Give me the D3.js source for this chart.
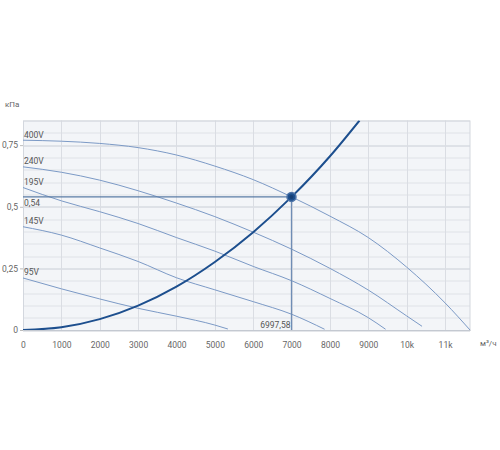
<!DOCTYPE html>
<html>
<head>
<meta charset="utf-8">
<script src="https://cdn.jsdelivr.net/npm/d3@7"></script>
<style>
  body { margin: 0; background: #fff; }
  text { font-family: Roboto, "Noto Sans", sans-serif; }
</style>
</head>
<body>
<svg id="svg"></svg>
<script>
  // fan curves, m3/h vs kPa
  const flow400 = [0, 1000, 2000, 3000, 4000, 5000, 6000, 7000, 8000, 9000, 10000, 11000, 11650];
  const press400 = [0.77, 0.766, 0.757, 0.74, 0.71, 0.665, 0.61, 0.54, 0.462, 0.375, 0.255, 0.11, 0];

  const flow240 = [0, 1000, 2000, 3000, 4000, 5000, 6000, 7000, 8000, 9000, 10000, 10400];
  const press240 = [0.662, 0.64, 0.608, 0.565, 0.515, 0.46, 0.397, 0.328, 0.25, 0.162, 0.057, 0.015];

  const flow195 = [0, 1000, 2000, 3000, 4000, 5000, 6000, 7000, 8000, 9000, 9450];
  const press195 = [0.578, 0.524, 0.48, 0.432, 0.375, 0.32, 0.258, 0.2, 0.128, 0.05, 0.003];

  const flow145 = [0, 1000, 2000, 3000, 4000, 5000, 6000, 7000, 7860];
  const press145 = [0.419, 0.385, 0.333, 0.278, 0.212, 0.163, 0.115, 0.064, 0.003];

  const flow95 = [0, 1000, 2000, 3000, 4000, 5000, 5340];
  const press95 = [0.211, 0.167, 0.126, 0.088, 0.056, 0.02, 0.004];

  const curveNames = ["400V", "240V", "195V", "145V", "95V"];

  // network (system) curve
  const flowNet = [0, 1000, 2000, 3000, 4000, 5000, 6000, 7000, 8000, 8770];
  const pressNet = [0, 0.011, 0.044, 0.099, 0.176, 0.276, 0.397, 0.54, 0.705, 0.85];

  const workFlow = 6997.58;
  const workPress = 0.54;

  const xTicks = [0, 1000, 2000, 3000, 4000, 5000, 6000, 7000, 8000, 9000, 10000, 11000];
  const xTickLabels = ["0", "1000", "2000", "3000", "4000", "5000", "6000", "7000", "8000", "9000", "10k", "11k"];
  const yTicks = [0, 0.25, 0.5, 0.75];
  const yTickLabels = ["0", "0,25", "0,5", "0,75"];

  const marginLeft = 23;
  const marginRight = 30;
  const marginTop = 120.5;
  const marginBottom = 120;
  const width = 500 - marginLeft - marginRight;
  const height = 450 - marginTop - marginBottom;

  const svg = d3.select("#svg")
      .attr("width", 500)
      .attr("height", 450);

  const xScale = d3.scaleLinear()
      .range([0, width])
      .domain([0, 11650]);

  const yScale = d3.scaleLinear()
      .range([height, 0])
      .domain([0, 0.85]);

  const chart = svg.append("g")
      .attr("transform", `translate(${marginLeft}, ${marginTop})`);

  chart.append("rect")
      .attr("width", width)
      .attr("height", height)
      .attr("fill", "#f3f5f8");

  // horizontal grid every 0.05, darker every 0.25
  const yGrid = d3.range(0, 18).map(i => +(i * 0.05).toFixed(2));
  chart.selectAll(".hgrid")
      .data(yGrid)
      .enter().append("line")
      .attr("x1", 0)
      .attr("x2", width)
      .attr("y1", d => Math.round(yScale(d)) + 0.5)
      .attr("y2", d => Math.round(yScale(d)) + 0.5)
      .attr("stroke", d => (Math.round(d * 100) % 25 === 0) ? "#c9ced6" : "#dfe2e7")
      .attr("stroke-width", 1);

  chart.selectAll(".vgrid")
      .data(xTicks.slice(1))
      .enter().append("line")
      .attr("x1", d => Math.round(xScale(d)) + 0.5)
      .attr("x2", d => Math.round(xScale(d)) + 0.5)
      .attr("y1", 0)
      .attr("y2", height)
      .attr("stroke", "#dadde3")
      .attr("stroke-width", 1);

  chart.append("rect")
      .attr("x", 0.5)
      .attr("y", 0.5)
      .attr("width", width - 0.5)
      .attr("height", height)
      .attr("fill", "none")
      .attr("stroke", "#d3d7de");

  // axes
  const xAxis = chart.append("g")
      .attr("transform", `translate(0, ${height})`)
      .call(d3.axisBottom(xScale)
        .tickValues(xTicks)
        .tickSize(0)
        .tickPadding(12)
        .tickFormat((d, i) => xTickLabels[i]));
  xAxis.select(".domain").attr("stroke", "#c4c9d1");
  xAxis.selectAll("text").attr("fill", "#666").attr("font-size", "8.5px");

  const yAxis = chart.append("g")
      .call(d3.axisLeft(yScale)
        .tickValues(yTicks)
        .tickSize(3)
        .tickPadding(2)
        .tickFormat((d, i) => yTickLabels[i]));
  yAxis.select(".domain").remove();
  yAxis.selectAll("line").attr("stroke", "#bbb");
  yAxis.selectAll("text").attr("fill", "#666").attr("font-size", "8.5px");

  svg.append("text")
      .attr("x", 5)
      .attr("y", 107)
      .attr("fill", "#666")
      .attr("font-size", "8px")
      .text("кПа");

  svg.append("text")
      .attr("x", 480)
      .attr("y", 346)
      .attr("fill", "#666")
      .attr("font-size", "8px")
      .text("м³/ч");

  // clip for curves
  svg.append("clipPath")
      .attr("id", "plotclip")
      .append("rect")
      .attr("width", width)
      .attr("height", height);

  const line = d3.line()
      .x(function(d) { return xScale(d[0]) })
      .y(function(d) { return yScale(d[1]) })
      .curve(d3.curveMonotoneX);

  const fanFlows = [flow400, flow240, flow195, flow145, flow95];
  const fanPress = [press400, press240, press195, press145, press95];

  fanFlows.forEach(function(flows, k) {
    const pts = flows.map((f, i) => [f, fanPress[k][i]]);
    chart.append("path")
        .datum(pts)
        .attr("fill", "none")
        .attr("stroke", "#7c9ac6")
        .attr("stroke-width", 1)
        .attr("d", line);

    chart.append("text")
        .attr("x", 1)
        .attr("y", yScale(pts[0][1]) - 2.5)
        .attr("fill", "#555")
        .attr("font-size", "8.5px")
        .text(curveNames[k]);
  });

  // operating point guide lines
  chart.append("line")
      .attr("x1", 0)
      .attr("x2", xScale(workFlow))
      .attr("y1", yScale(workPress))
      .attr("y2", yScale(workPress))
      .attr("stroke", "#5b7ca6")
      .attr("stroke-width", 1.3);

  chart.append("line")
      .attr("x1", xScale(workFlow))
      .attr("x2", xScale(workFlow))
      .attr("y1", yScale(workPress))
      .attr("y2", height)
      .attr("stroke", "#6f8db5")
      .attr("stroke-width", 1.3);

  chart.append("text")
      .attr("x", 1)
      .attr("y", yScale(workPress) + 9)
      .attr("fill", "#555")
      .attr("font-size", "8.5px")
      .text("0,54");

  chart.append("text")
      .attr("x", xScale(workFlow) - 1)
      .attr("y", height - 2)
      .attr("text-anchor", "end")
      .attr("fill", "#555")
      .attr("font-size", "8.5px")
      .text("6997,58");

  // network curve
  chart.append("path")
      .datum(flowNet.map((f, i) => [f, pressNet[i]]))
      .attr("clip-path", "url(#plotclip)")
      .attr("fill", "none")
      .attr("stroke", "#1d4f8e")
      .attr("stroke-width", 2)
      .attr("d", line);

  chart.append("circle")
      .attr("cx", xScale(workFlow))
      .attr("cy", yScale(workPress))
      .attr("r", 4.5)
      .attr("fill", "#1d4f8e")
      .attr("stroke", "#4d74a8")
      .attr("stroke-width", 1.5);

  chart.append("circle")
      .attr("cx", xScale(workFlow))
      .attr("cy", yScale(workPress))
      .attr("r", 2)
      .attr("fill", "#163f75");
</script>
</body>
</html>
